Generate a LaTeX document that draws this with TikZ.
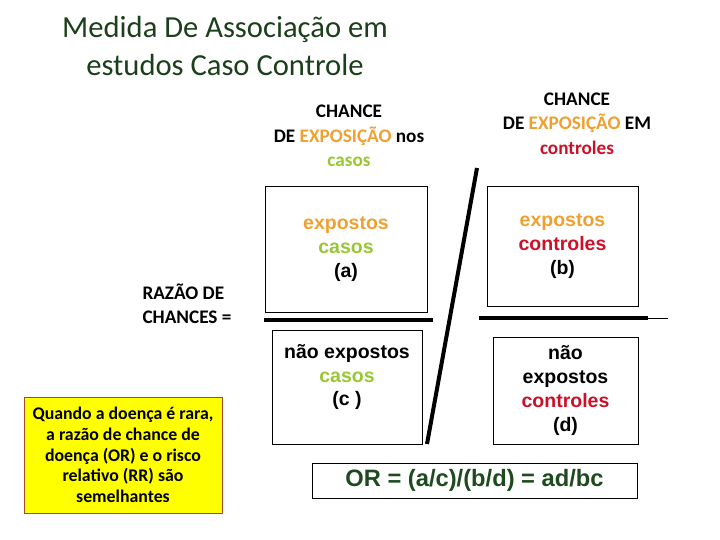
\documentclass[tikz,border=0pt]{standalone}
\usepackage{fontspec}
\setmainfont{Carlito}
\newfontfamily\arialf{Liberation Sans}
\usepackage{xcolor}
\usetikzlibrary{positioning,calc}
\definecolor{titlegreen}{HTML}{1A3F1A}
\definecolor{expo}{HTML}{F0A030}
\definecolor{caso}{HTML}{99C633}
\definecolor{ctrl}{HTML}{CC1028}
\definecolor{orgreen}{HTML}{1E4A1E}
\definecolor{notebg}{HTML}{FFFF00}
\definecolor{noterule}{HTML}{A84A2A}

\begin{document}
\begin{tikzpicture}[x=1pt,y=-1pt,
  head/.style={font=\fontsize{19.2}{24.5}\selectfont\bfseries,align=center},
  cellbox/.style={draw=black,line width=0.9pt,inner sep=0pt,align=center,
                  font=\arialf\fontsize{19.5}{23.8}\selectfont\bfseries},
  bar/.style={line width=4pt}
]
\useasboundingbox (0,0) rectangle (720,540);
% title
\node[font=\fontsize{30.6}{38}\selectfont,text=titlegreen,align=center] (title) at (225,46)
  {Medida De Associação em\\estudos Caso Controle};
% column heads
\node[head] (hcasos) at (349,136)
  {CHANCE\\DE {\color{expo}EXPOSIÇÃO} nos\\{\color{caso}casos}};
\node[head] (hctrl) at (577,123.5)
  {CHANCE\\DE {\color{expo}EXPOSIÇÃO} EM\\{\color{ctrl}controles}};
% cells
\node[cellbox,minimum width=162pt,minimum height=126pt] (a) at (346,249)
  {{\color{expo}expostos}\\{\color{caso}casos}\\(a)};
\node[cellbox,minimum width=151pt,minimum height=120pt] (b) at (562.5,246)
  {{\color{expo}expostos}\\{\color{ctrl}controles}\\(b)};
\node[cellbox,minimum width=150pt,minimum height=114pt] (c) at (347,387)
  {não expostos\\{\color{caso}casos}\\(c )\\\mbox{}};
\node[cellbox,minimum width=145pt,minimum height=107pt] (d) at (565.5,390.5)
  {não\\expostos\\{\color{ctrl}controles}\\(d)};
% fraction bars
\coordinate (slashtop) at (477,168);
\coordinate (slashbot) at (427,444);
\draw[bar] (slashtop) -- (slashbot);
\coordinate (la) at (264,320);
\coordinate (lb) at (433,320);
\draw[bar] (la) -- (lb);
\coordinate (ra) at (479,318);
\coordinate (rb) at (648,318);
\coordinate (rc) at (668,318);
\draw[bar] (ra) -- (rb);
\draw[line width=0.9pt] (rb) -- (rc);
% left texts
\node[font=\fontsize{19.2}{24}\selectfont\bfseries,align=left,anchor=west] (razao) at (139,304)
  {RAZÃO DE\\CHANCES =};
\node[draw=noterule,fill=notebg,line width=0.8pt,minimum width=198pt,minimum height=116pt,
      inner sep=0pt,align=center,font=\fontsize{17.8}{20.6}\selectfont\bfseries] (note) at (123,455)
  {Quando a doença é rara,\\a razão de chance de\\doença (OR) e o risco\\relativo (RR) são\\semelhantes};
% result
\node[draw=black,line width=0.9pt,minimum width=325pt,minimum height=35pt,inner sep=0pt,
      text=orgreen,font=\arialf\fontsize{23.7}{28}\selectfont\bfseries] (or) at (474.5,480.5)
  {OR = (a/c)/(b/d) = ad/bc};
\end{tikzpicture}
\end{document}
